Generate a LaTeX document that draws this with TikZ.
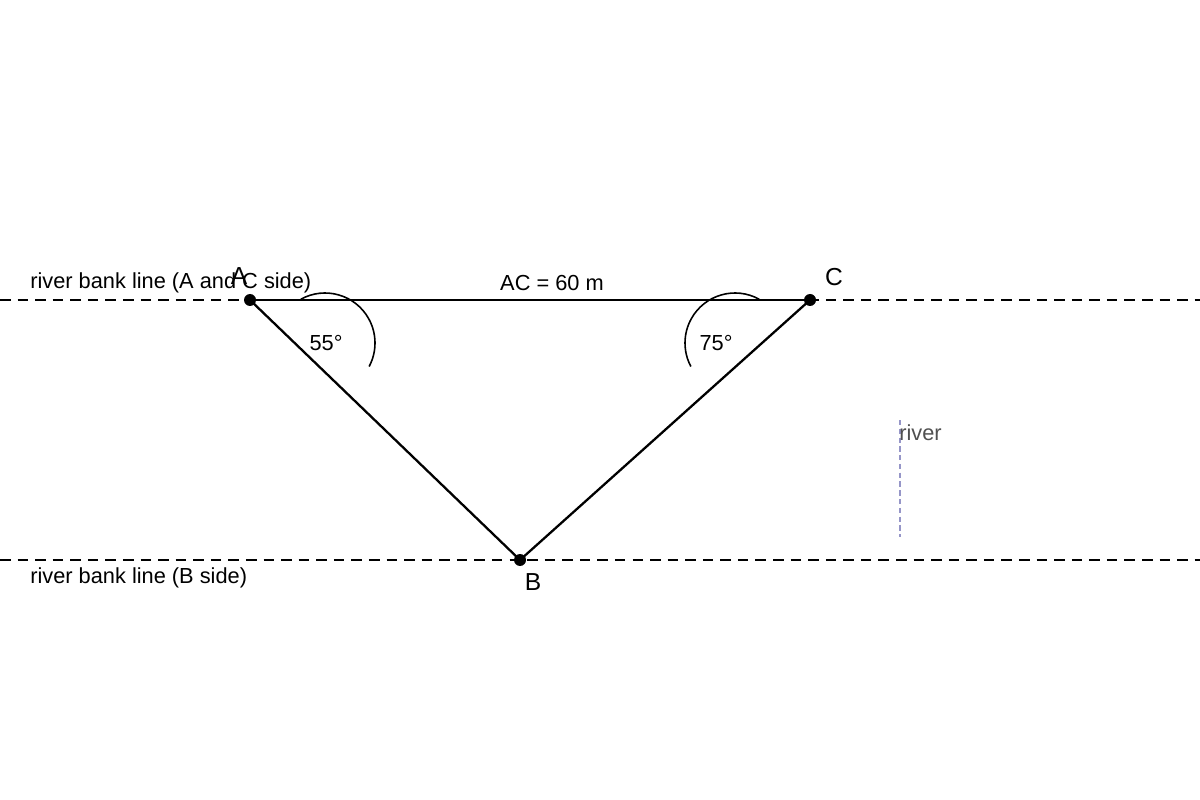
\documentclass[tikz,border=0pt]{standalone}
\usepackage{fontspec}
\setmainfont{Liberation Sans}
\begin{document}
\begin{tikzpicture}[x=0.02cm,y=-0.02cm,
  lbl/.style={font=\fontsize{12.4}{14}\selectfont,inner sep=0pt},
  big/.style={font=\fontsize{14}{16}\selectfont,inner sep=0pt},
  pt/.style={circle,fill=black,inner sep=0pt,minimum size=0.24cm},
  bank/.style={line width=1.3pt,dash pattern=on 6pt off 4pt},
  side/.style={line width=1.3pt}]
\useasboundingbox (0,0) rectangle (1200,800);
\coordinate (l1) at (0,300); \coordinate (r1) at (1200,300);
\coordinate (l2) at (0,560); \coordinate (r2) at (1200,560);
\draw[bank] (l1) -- (r1);
\draw[bank] (l2) -- (r2);
\node[pt] (A) at (250,300) {};
\node[pt] (C) at (810,300) {};
\node[pt] (B) at (520,560) {};
\draw[side] (A.center) -- (C.center);
\draw[side] (A.center) -- (B.center);
\draw[side] (C.center) -- (B.center);
\draw[line width=0.9pt] (325,343) ++(-119:50) arc[start angle=-119,end angle=28,radius=50];
\draw[line width=0.9pt] (735,343) ++(-61:50) arc[start angle=-61,end angle=-208,radius=50];
\node[lbl,anchor=west] (t1) at (30,283) {river bank line (A and C side)};
\node[lbl,anchor=west] (t2) at (30,578) {river bank line (B side)};
\node[big] (la) at (239,276) {A};
\node[big] (lc) at (834,277) {C};
\node[big] (lb) at (533,582) {B};
\node[lbl] (ac) at (552,283) {AC = 60 m};
\node[lbl] (a55) at (326,343) {55°};
\node[lbl] (a75) at (716,343) {75°};
\coordinate (v1) at (900,420); \coordinate (v2) at (900,537);
\draw[color={rgb,255:red,150;green,150;blue,200},line width=1pt,dash pattern=on 3pt off 2pt] (v1) -- (v2);
\node[lbl,anchor=west,text={rgb,255:red,80;green,80;blue,80}] (rv) at (899,433) {river};
\end{tikzpicture}
\end{document}
